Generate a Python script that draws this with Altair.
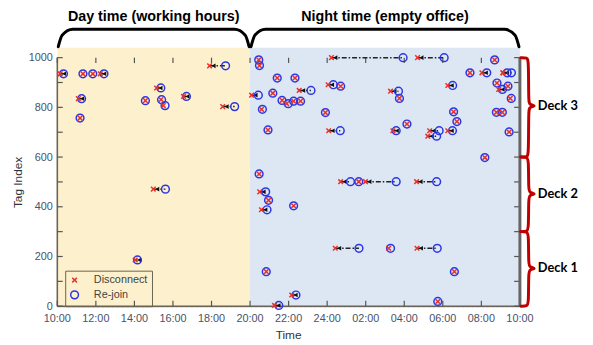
import altair as alt
import pandas as pd

# ---------------- data ----------------
# time in hours counted from 00:00 of day 1 (so 26 = 02:00 next day)
disc_time = [10.15, 11.33, 11.84, 12.23, 11.09, 11.18, 14.57, 15.15, 15.38, 15.50,
             16.55, 17.90, 18.58, 14.98, 14.04,
             20.45, 20.49, 21.41, 22.33, 20.08, 21.18, 22.55, 21.66, 21.90, 22.26,
             22.62, 20.60, 23.91, 20.93, 24.08, 24.05, 24.70, 24.22, 28.69, 27.29,
             27.75, 28.14, 27.41, 29.32, 29.22, 30.26, 30.26, 30.56, 30.73, 31.41,
             32.03, 32.69, 33.12, 33.12, 32.81, 32.90, 33.38, 33.50, 32.78, 33.09,
             33.44, 32.18, 20.47, 24.70, 25.64, 25.99, 28.64, 20.50, 20.96, 20.59,
             22.26, 24.42, 27.19, 28.66, 20.84, 30.60, 22.16, 21.27, 29.74]
rejoin_time = [10.32, 11.33, 11.84, 12.42, 11.26, 11.18, 14.57, 15.37, 15.41, 15.59,
               16.70, 18.73, 19.20, 15.61, 14.16,
               20.45, 20.49, 21.41, 22.33, 20.43, 21.18, 23.16, 21.66, 21.98, 22.26,
               22.62, 20.64, 23.91, 20.93, 24.68, 24.32, 24.70, 27.94, 30.07, 27.70,
               27.75, 28.14, 27.58, 29.81, 29.68, 30.50, 30.51, 30.56, 30.73, 31.41,
               32.28, 32.69, 33.34, 33.56, 32.81, 33.09, 33.38, 33.55, 32.78, 33.09,
               33.44, 32.18, 20.47, 25.21, 25.64, 27.58, 29.68, 20.81, 20.96, 20.88,
               22.26, 25.65, 27.29, 29.71, 20.84, 30.60, 22.38, 21.49, 29.74]
tag_index = [935, 935, 935, 935, 835, 757, 827, 878, 831, 807,
             844, 967, 803, 471, 186,
             991, 968, 918, 918, 849, 857, 868, 828, 815, 825,
             825, 792, 779, 709, 706, 891, 885, 1000, 1000, 865,
             836, 733, 706, 706, 684, 706, 888, 782, 743, 939,
             939, 991, 939, 939, 898, 872, 885, 836, 780, 780,
             701, 598, 532, 501, 501, 501, 501, 460, 426, 388,
             404, 233, 233, 233, 139, 139, 45, 3, 19]

x_ticks = [10, 12, 14, 16, 18, 20, 22, 24, 26, 28, 30, 32, 34]
x_tick_labels = ["10:00", "12:00", "14:00", "16:00", "18:00", "20:00", "22:00",
                 "24:00", "02:00", "04:00", "06:00", "08:00", "10:00"]
y_ticks = [0, 100, 200, 300, 400, 500, 600, 700, 800, 900, 1000]
x_title = "Time"

periods = ["Day time (working hours)", "Night time (empty office)"]
period_start = [10, 20]
period_end = [20, 34]
period_color = ["#fdf0cc", "#dce7f3"]

decks = ["Deck 1", "Deck 2", "Deck 3"]
deck_low = [0, 300, 600]
deck_high = [300, 600, 1000]
deck_tip = [152, 452, 806]

# ---------------- tables ----------------
X = alt.Scale(domain=[10, 34], nice=False, zero=False)
Y = alt.Scale(domain=[0, 1000], nice=False, zero=False)

events = pd.DataFrame({"disc": disc_time, "rejoin": rejoin_time, "tag": tag_index})
links = events[(events.rejoin - events.disc) >= 0.1]

pts = pd.concat([
    pd.DataFrame({"t": rejoin_time, "tag": tag_index, "kind": "Re-join"}),
    pd.DataFrame({"t": disc_time, "tag": tag_index, "kind": "Disconnect"}),
], ignore_index=True)

bands = pd.DataFrame({"p": periods, "x0": period_start, "x1": period_end,
                      "c": period_color})

# top arch-shaped braces
top_rows = []
for p, a, b in zip(periods, period_start, period_end):
    xs = [a + 0.05, a + 0.25, a + 0.8, b - 0.8, b - 0.25, b - 0.05]
    ys = [1044, 1090, 1114, 1114, 1090, 1044]
    for xx, yy in zip(xs, ys):
        top_rows.append({"g": p, "bx": xx, "by": yy})
top_br = pd.DataFrame(top_rows)
titles = pd.DataFrame({"p": periods,
                       "xc": [(a + b) / 2 for a, b in zip(period_start, period_end)]})

# right curly braces (red)
side_rows = []
for d, lo, hi, m in zip(decks, deck_low, deck_high, deck_tip):
    xs = [34.05, 34.38, 34.45, 34.45, 34.5, 34.86, 34.5, 34.45, 34.45, 34.38, 34.05]
    ys = [hi, hi, hi - 12, m + 16, m + 5, m, m - 5, m - 16, lo + 12, lo, lo]
    for i, (xx, yy) in enumerate(zip(xs, ys)):
        side_rows.append({"g": d, "o": i, "bx": xx, "by": yy})
side_br = pd.DataFrame(side_rows)
deck_lbl = pd.DataFrame({"d": decks, "m": deck_tip})

yt = pd.DataFrame({"v": y_ticks})
xt = pd.DataFrame({"v": x_ticks, "lab": x_tick_labels})

# ---------------- layers ----------------
bg = alt.Chart(bands).mark_rect().encode(
    x=alt.X("x0:Q", scale=X, axis=None), x2="x1:Q",
    y=alt.datum(0, scale=Y), y2=alt.datum(1040),
    color=alt.Color("c:N", scale=None),
)

axes = alt.Chart(pd.DataFrame({"t": [10], "tag": [0]})).mark_point(opacity=0).encode(
    x=alt.X("t:Q", scale=X, title=None,
            axis=alt.Axis(values=x_ticks, ticks=False, domain=False, grid=True,
                          labels=False,
                          gridDash=[2, 3], gridColor="#8a8a8a", gridOpacity=0.75)),
    y=alt.Y("tag:Q", scale=Y, title="Tag Index",
            axis=alt.Axis(values=y_ticks, ticks=False, domain=False, grid=True,
                          gridDash=[2, 3], gridColor="#8a8a8a", gridOpacity=0.75,
                          format="d", labelOverlap=False, labelFlush=False,
                          labelFont="Liberation Sans", labelFontSize=11,
                          labelColor="#4a5268", labelPadding=5,
                          titleFont="Liberation Sans", titleFontSize=12,
                          titleFontWeight="normal", titleColor="#333", titlePadding=4)),
)

x_labels = alt.Chart(xt).mark_text(font="Liberation Sans", fontSize=11, color="#4a5268",
                                   baseline="top", dy=7).encode(
    x=alt.X("v:Q", scale=X), y=alt.datum(0, scale=Y), text="lab:N")
x_title_mark = alt.Chart(pd.DataFrame({"s": [x_title]})).mark_text(
    font="Liberation Sans", fontSize=12, color="#333", baseline="top", dy=24).encode(
    x=alt.datum(22, scale=X), y=alt.datum(0, scale=Y), text="s:N")

tick_style = dict(color="#555", strokeWidth=1.2)
t_left = alt.Chart(yt).mark_rule(**tick_style).encode(
    y=alt.Y("v:Q", scale=Y), x=alt.datum(10, scale=X), x2=alt.datum(10.28))
t_right = alt.Chart(yt).mark_rule(**tick_style).encode(
    y=alt.Y("v:Q", scale=Y), x=alt.datum(33.7, scale=X), x2=alt.datum(34))
t_bot = alt.Chart(xt).mark_rule(**tick_style).encode(
    x=alt.X("v:Q", scale=X), y=alt.datum(0, scale=Y), y2=alt.datum(22))
t_top = alt.Chart(xt).mark_rule(**tick_style).encode(
    x=alt.X("v:Q", scale=X), y=alt.datum(978, scale=Y), y2=alt.datum(1000))

right_edge = alt.Chart(pd.DataFrame({"v": [34]})).mark_rule(color="#666", strokeWidth=3).encode(
    x=alt.X("v:Q", scale=X), y=alt.datum(0, scale=Y), y2=alt.datum(1000))
left_edge = alt.Chart(pd.DataFrame({"v": [10]})).mark_rule(color="#6a6358", strokeWidth=1.6).encode(
    x=alt.X("v:Q", scale=X), y=alt.datum(0, scale=Y), y2=alt.datum(1000))
bot_edge = alt.Chart(pd.DataFrame({"v": [0]})).mark_rule(color="#6a6358", strokeWidth=1.6).encode(
    y=alt.Y("v:Q", scale=Y), x=alt.datum(10, scale=X), x2=alt.datum(34))

link_lines = alt.Chart(links).mark_rule(color="#222", strokeWidth=1.5,
                                        strokeDash=[5, 2, 1.5, 2]).encode(
    x=alt.X("disc:Q", scale=X), x2="rejoin:Q", y=alt.Y("tag:Q", scale=Y))
arrows = alt.Chart(links).mark_point(shape="triangle-left", filled=True, size=22,
                                     color="#111", opacity=1, xOffset=4).encode(
    x=alt.X("disc:Q", scale=X), y=alt.Y("tag:Q", scale=Y))

marks = alt.Chart(pts).mark_point(filled=False, strokeWidth=1.5, opacity=1).encode(
    x=alt.X("t:Q", scale=X), y=alt.Y("tag:Q", scale=Y),
    color=alt.Color("kind:N",
                    scale=alt.Scale(domain=["Disconnect", "Re-join"],
                                    range=["#e8302a", "#2b35e6"]),
                    legend=alt.Legend(title=None, orient="none", legendX=8, legendY=216,
                                      strokeColor="#6b6452", padding=4,
                                      labelFont="Liberation Sans", labelFontSize=11,
                                      labelColor="#444", symbolSize=45,
                                      symbolStrokeWidth=1.5, rowPadding=2,
                                      labelOffset=14)),
    shape=alt.Shape("kind:N",
                    scale=alt.Scale(domain=["Disconnect", "Re-join"],
                                    range=["M-1,-1L1,1M1,-1L-1,1", "circle"])),
    size=alt.Size("kind:N", scale=alt.Scale(domain=["Disconnect", "Re-join"],
                                            range=[22, 62]), legend=None),
)

top_braces = alt.Chart(top_br).mark_line(color="black", strokeWidth=3,
                                         interpolate="monotone", strokeCap="round").encode(
    x=alt.X("bx:Q", scale=X), y=alt.Y("by:Q", scale=Y), detail="g:N")
top_titles = alt.Chart(titles).mark_text(font="Liberation Sans", fontWeight="bold",
                                         fontSize=14.5, color="black").encode(
    x=alt.X("xc:Q", scale=X), y=alt.datum(1163, scale=Y), text="p:N")

side_braces = alt.Chart(side_br).mark_line(color="#c00000", strokeWidth=3,
                                           interpolate="basis", strokeCap="round").encode(
    x=alt.X("bx:Q", scale=X), y=alt.Y("by:Q", scale=Y), detail="g:N", order="o:Q")
side_lbls = alt.Chart(deck_lbl).mark_text(font="Lato", fontWeight="bold", fontSize=13,
                                          align="left", baseline="middle", color="black").encode(
    x=alt.datum(34.93, scale=X), y=alt.Y("m:Q", scale=Y), text="d:N")

chart = alt.layer(
    bg, axes, x_labels, x_title_mark, left_edge, bot_edge, t_left, t_right, t_bot, t_top,
    right_edge, link_lines, arrows, marks, top_braces, top_titles, side_braces, side_lbls,
).properties(
    width=469, height=252,
    autosize=alt.AutoSizeParams(type="none"),
    padding={"left": 50, "top": 48, "right": 66, "bottom": 37},
).configure_view(stroke="#888", strokeWidth=1)

chart.save("out.html", embed_options={"renderer": "svg", "actions": False})
